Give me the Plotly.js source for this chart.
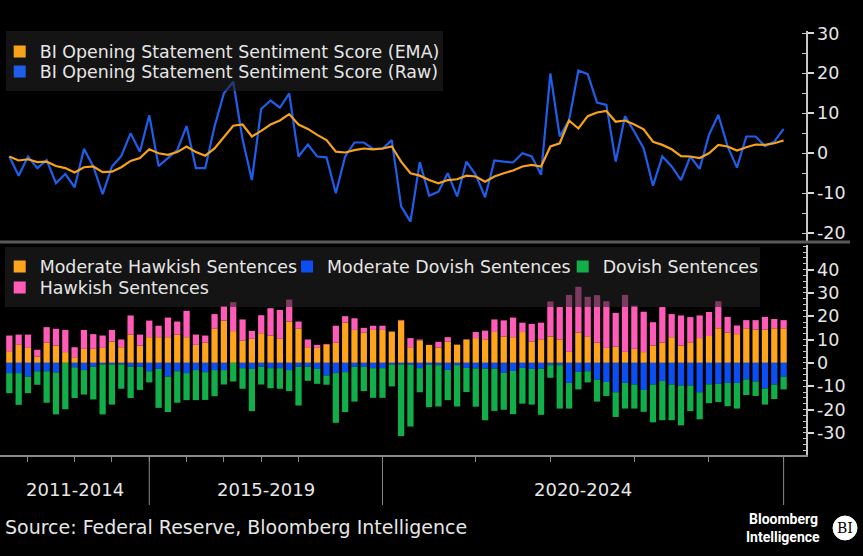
<!DOCTYPE html>
<html>
<head>
<meta charset="utf-8">
<script src="https://cdn.plot.ly/plotly-3.0.1.min.js"></script>
<style>
html,body{margin:0;padding:0;background:#000;}
#chart{width:863px;height:556px;}
</style>
</head>
<body>
<div id="chart"></div>
<script>
// ---------------- DATA ----------------
const years = [2011,2012,2013,2014,2015,2016,2017,2018,2019,2020,2021,2022,2023,2024];
const meetingsPerYear = [2,5,4,4,4,4,4,4,9,10,8,9,8,9];
const groupLabels = ['2011-2014','2015-2019','2020-2024'];
const groupFirstYear = [2011, 2015, 2020];

const emaName = 'BI Opening Statement Sentiment Score (EMA)';
const rawName = 'BI Opening Statement Sentiment Score (Raw)';

const emaScore = [
 -0.8,-1.8,-1.5,-2.2,-2.1,-3.2,-3.7,-4.8,-3.5,-3.3,
 -4.7,-4.6,-3.5,-1.9,-1.2, 1.0, 0.0,-0.4, 0.3, 1.7,
  0.3,-0.6, 1.2, 4.2, 6.9, 7.2, 4.2, 5.6, 7.2, 8.2,
  9.8, 7.2, 6.1, 4.6, 3.3, 0.4, 0.2, 0.8, 1.2, 1.0,
  1.2, 1.7,-2.1,-5.0,-5.6,-6.7,-7.5,-6.7,-6.5,-5.6,
 -5.8,-7.1,-5.8,-5.0,-4.3,-3.3,-2.9,-3.3, 1.7, 2.5,
  8.2, 6.2, 9.3,10.2,10.6, 7.9, 8.2, 7.2, 6.0, 2.9,
  2.1, 1.0,-0.7,-0.8,-1.2, 0.0, 2.1, 1.7, 0.7, 1.5,
  2.2, 2.1, 2.5, 3.2];

const rawScore = [
 -0.8,-5.6,-0.8,-3.7,-1.7,-7.5,-5.2,-8.5, 1.1,-3.3,
-10.2,-3.3,-0.7, 5.0, 0.4, 9.5,-3.2,-1.2, 0.8, 6.8,
 -3.7,-3.7, 6.7,15.0,17.9, 3.5,-6.7,11.1,13.2,11.4,
 15.0,-0.8, 2.2,-0.8,-1.0,-10.0,-0.8, 2.7, 2.7, 1.1,
  1.1, 3.3,-13.3,-17.1,-2.2,-10.6,-9.6,-5.0,-10.8,-2.1,
 -5.4,-11.0,-1.8,-2.1,-2.3, 0.0,-0.8,-5.4,20.0, 4.2,
  8.3,20.7,19.8,12.7,12.1,-2.1, 9.3, 5.4, 1.2,-8.1,
 -0.8,-3.3,-6.7,-0.8,-3.9, 4.6, 9.6, 1.7,-3.6, 4.2,
  4.2, 1.8, 2.9, 6.1];

const moderateHawkish = [
  5.0, 7.7, 6.4, 2.7, 8.7, 7.4, 4.6, 2.4, 6.0, 6.0,
  6.4, 9.1, 6.7,12.1, 7.4,11.0,11.0,11.0,12.1,11.0,
  7.7, 8.6,14.6,18.1,13.6, 9.6,10.3,12.7,11.7,10.3,
 17.7,14.6, 6.7, 6.4, 7.7, 8.6,17.3,14.1,12.9,14.1,
 14.1,13.4,18.1, 6.7, 9.6, 7.7, 6.5, 9.2, 7.8,10.0,
 10.6,10.1,13.2,11.3,11.0,13.2, 9.2,10.1,11.3,10.0,
  4.7,12.9,11.1, 8.6, 6.4, 6.9, 4.7, 6.0, 4.6, 7.4,
  8.7,11.0, 7.4, 8.8,10.6,11.5,14.8,12.9,12.3,14.8,
 14.3,14.3,14.8,14.8];

const hawkish = [
  6.7, 4.4, 5.7, 2.9, 6.6, 7.2, 9.5, 4.3, 8.1, 6.3,
  5.3, 5.0, 3.3, 8.2, 4.7, 7.1, 4.9, 8.4, 5.6,11.3,
  4.4, 3.1, 6.3, 6.2,12.4, 9.0, 3.4, 7.7,11.7,12.4,
  9.4, 3.1, 3.3, 1.3, 0.4, 7.3, 2.7, 5.0, 2.1, 1.8,
  1.8, 0.0, 0.3, 3.9, 0.4, 0.0, 2.5, 1.8, 0.0, 0.1,
  2.6, 3.7, 5.4, 6.9, 8.4, 4.0, 7.5, 7.1,15.0,13.9,
 24.4,19.7,17.2,20.4,20.0,14.5,24.4,18.5,17.3,10.0,
 15.2, 9.9,12.9,10.8, 9.7,10.3,11.6, 6.8, 3.7, 3.5,
  4.0, 5.4, 4.0, 3.5];

const moderateDovish = [
 -4.4,-4.4,-5.9,-3.6,-3.6,-4.1, 0.0,-1.9,-3.1,-1.7,
 -0.7,-0.7,-0.7,-1.6,-1.7,-3.6,-2.6,-5.9,-3.6,-4.4,
 -3.1,-4.0,-3.1,-3.1, 0.0,-2.3,-2.6,-1.7,-2.3,-2.3,
 -3.1,-1.7,-1.7,-2.6,-5.4,-4.4,-4.0,-1.7,-1.7,-2.3,
 -2.3,-0.7,-0.7,-0.9,-2.3,-0.9,-1.0,-3.0,-1.0,-2.2,
 -2.4,-2.5,-2.5,-4.3,-3.5,-2.2,-2.6,-2.5,-1.0,-1.0,
 -8.6,-3.9,-3.6,-7.2,-8.2,-12.6,-8.6,-9.3,-11.6,-9.3,
 -7.8,-9.3,-9.7,-9.7,-12.6,-9.2,-9.0,-8.6,-8.6,-7.1,
 -8.0,-11.0,-9.3,-6.0];

const dovish = [
 -8.6,-13.6,-7.1,-5.8,-13.5,-18.0,-19.9,-13.2,-10.5,-14.0,
-21.4,-17.2,-10.4,-13.5,-9.9,-4.8,-16.7,-15.2,-13.5,-11.6,
-12.9,-11.9,-11.2,-6.2,-8.0,-8.8,-18.1,-7.6,-8.6,-8.8,
 -9.0,-16.6,-6.0,-6.4,-4.0,-21.3,-17.1,-14.9,-10.4,-12.7,
-12.7,-9.4,-30.7,-26.4,-10.3,-18.1,-17.7,-13.0,-17.7,-10.3,
-16.4,-22.1,-18.1,-15.8,-18.5,-15.3,-15.3,-19.8,-5.4,-18.6,
-11.0,-7.5,-4.8,-9.4,-6.0,-10.6,-11.0,-10.3,-9.4,-16.2,
-16.8,-15.3,-17.1,-11.0,-11.6,-8.1,-7.8,-10.0,-11.0,-6.7,
 -6.2,-6.9,-6.2,-5.4];

const topTicks = [-20,-10,0,10,20,30];
const bottomTicks = [-30,-20,-10,0,10,20,30,40];

// ---------------- HELPERS ----------------
const W = 863, H = 556;
const px = v => v / W;
const py = v => 1 - v / H;
const FONT = "'DejaVu Sans', Verdana, sans-serif";
const TXT = '#e6e6e6';
const C = {ema:'#f7a21b', raw:'#1e5eea', mh:'#ffa41c', md:'#0d4ef2', d:'#12ae4a', h:'#ff5bb7'};

const N = emaScore.length;
const xIdx = emaScore.map((_, i) => i);
const yearStart = [];
{ let c = 0; meetingsPerYear.forEach(n => { yearStart.push(c); c += n; }); }
const XMIN = -1, XMAX = 85.4;
const xTicks = yearStart.slice(1).concat([N - 1]);
const groupStart = groupFirstYear.map(y => yearStart[years.indexOf(y)]);
const groupEdges = [XMIN].concat(groupStart.slice(1), [N - 1]);

// ---------------- TRACES ----------------
const traces = [];
traces.push({type:'scatter', mode:'lines', name:rawName, x:xIdx, y:rawScore, xaxis:'x', yaxis:'y',
  line:{color:C.raw, width:2.2}, showlegend:false});
traces.push({type:'scatter', mode:'lines', name:emaName, x:xIdx, y:emaScore, xaxis:'x', yaxis:'y',
  line:{color:C.ema, width:2.2}, showlegend:false});
// legend swatches for the two lines (square keys, as in the original)
traces.push({type:'bar', name:emaName, x:[null], y:[null], xaxis:'x', yaxis:'y', marker:{color:C.ema}, legend:'legend'});
traces.push({type:'bar', name:rawName, x:[null], y:[null], xaxis:'x', yaxis:'y', marker:{color:C.raw}, legend:'legend2'});

traces.push({type:'bar', name:'Moderate Hawkish Sentences', x:xIdx, y:moderateHawkish, xaxis:'x', yaxis:'y2', marker:{color:C.mh}, legend:'legend3'});
traces.push({type:'bar', name:'Moderate Dovish Sentences', x:xIdx, y:moderateDovish, xaxis:'x', yaxis:'y2', marker:{color:C.md}, legend:'legend4'});
traces.push({type:'bar', name:'Dovish Sentences', x:xIdx, y:dovish, xaxis:'x', yaxis:'y2', marker:{color:C.d}, legend:'legend5'});
traces.push({type:'bar', name:'Hawkish Sentences', x:xIdx, y:hawkish, xaxis:'x', yaxis:'y2', marker:{color:C.h}, legend:'legend6'});

// ---------------- LAYOUT ----------------
const legendBase = (xPix, yPix) => ({
  x: px(xPix), xanchor:'left', y: py(yPix), yanchor:'middle',
  bgcolor:'rgba(0,0,0,0)', borderwidth:0, font:{family:FONT, size:17.4, color:TXT}
});

const yBase = {
  side:'right', anchor:'x', showgrid:false, zeroline:false, showline:true,
  linecolor:'#c8c8c8', linewidth:1.5, ticks:'outside', ticklen:6, tickwidth:2, tickcolor:'#d8d8d8',
  tickfont:{family:FONT, size:17.5, color:TXT}, fixedrange:true
};

const shapes = [];
// legend backgrounds (semi-transparent, drawn over the marks)
shapes.push({type:'rect', xref:'paper', yref:'paper', x0:px(6), x1:px(443), y0:py(91), y1:py(31),
  fillcolor:'rgba(34,34,34,0.58)', line:{width:0}, layer:'above'});
shapes.push({type:'rect', xref:'paper', yref:'paper', x0:px(5), x1:px(760), y0:py(307), y1:py(247),
  fillcolor:'rgba(34,34,34,0.58)', line:{width:0}, layer:'above'});
// panel separator
shapes.push({type:'line', xref:'paper', yref:'paper', x0:0, x1:px(850), y0:py(242), y1:py(242),
  line:{color:'#5a5a5a', width:3}});
// period separators
groupEdges.slice(1).forEach(e => shapes.push({type:'line', xref:'x', yref:'paper', x0:e, x1:e,
  y0:py(455), y1:py(505), line:{color:'#8a8a8a', width:1}}));
// BI badge disc
shapes.push({type:'circle', xref:'paper', yref:'paper', x0:px(833), x1:px(857), y0:py(540), y1:py(516),
  fillcolor:'#ffffff', line:{color:'#ffffff', width:1}, layer:'below'});

const annotations = [];
groupLabels.forEach((g, i) => annotations.push({
  text:g, xref:'x', yref:'paper', x:(groupEdges[i] + groupEdges[i+1]) / 2, y:py(489),
  xanchor:'center', yanchor:'middle',
  showarrow:false, font:{family:FONT, size:18, color:TXT}
}));
annotations.push({text:'Source: Federal Reserve, Bloomberg Intelligence', xref:'paper', yref:'paper',
  x:px(3), y:py(527), xanchor:'left', yanchor:'middle', showarrow:false, font:{family:FONT, size:19, color:TXT}});
annotations.push({text:'Bloomberg', xref:'paper', yref:'paper', x:px(783), y:py(519), xanchor:'center', yanchor:'middle', showarrow:false,
  font:{family:'Roboto, sans-serif', size:14, weight:700, color:'#ffffff'}});
annotations.push({text:'Intelligence', xref:'paper', yref:'paper', x:px(783), y:py(537), xanchor:'center', yanchor:'middle', showarrow:false,
  font:{family:'Roboto, sans-serif', size:14, weight:700, color:'#ffffff'}});
annotations.push({text:'BI', xref:'paper', yref:'paper', x:px(845), y:py(528), xanchor:'center', yanchor:'middle', showarrow:false,
  font:{family:"'DejaVu Serif', serif", size:14, color:'#000000'}});

const layout = {
  width:W, height:H,
  paper_bgcolor:'#000', plot_bgcolor:'#000',
  margin:{l:0, r:0, t:0, b:0, pad:0, autoexpand:false},
  font:{family:FONT, size:17.4, color:TXT},
  barmode:'relative', bargap:0.33,
  showlegend:true,
  legend: legendBase(16.7 - 17, 51.7),
  legend2: legendBase(16.7 - 17, 71.7),
  legend3: legendBase(16.7 - 17, 266.7),
  legend4: legendBase(306 - 19, 266.7),
  legend5: legendBase(581.7 - 19, 266.7),
  legend6: legendBase(16.7 - 17, 287.7),
  xaxis:{domain:[0, px(806)], range:[XMIN, XMAX], anchor:'y2', showgrid:false, zeroline:false,
    showline:true, linecolor:'#8a8a8a', linewidth:1.5, ticks:'outside', ticklen:5, tickcolor:'#8a8a8a',
    tickmode:'array', tickvals:xTicks, showticklabels:false, fixedrange:true},
  yaxis: Object.assign({}, yBase, {domain:[py(242), py(31)], range:[-22.2, 30.6],
    tickmode:'array', tickvals:topTicks, ticktext:topTicks.map(String),
    minor:{tickmode:'linear', tick0:0, dtick:5, ticks:'inside', ticklen:4, tickcolor:'#c8c8c8', tickwidth:1}}),
  yaxis2: Object.assign({}, yBase, {domain:[py(455), py(245)], range:[-39.5, 50.5],
    tickmode:'array', tickvals:bottomTicks, ticktext:bottomTicks.map(String),
    minor:{tickmode:'linear', tick0:0, dtick:2.5, ticks:'inside', ticklen:3, tickcolor:'#c8c8c8', tickwidth:1}}),
  shapes: shapes,
  annotations: annotations
};

Plotly.newPlot('chart', traces, layout, {displayModeBar:false, staticPlot:true});
</script>
</body>
</html>
